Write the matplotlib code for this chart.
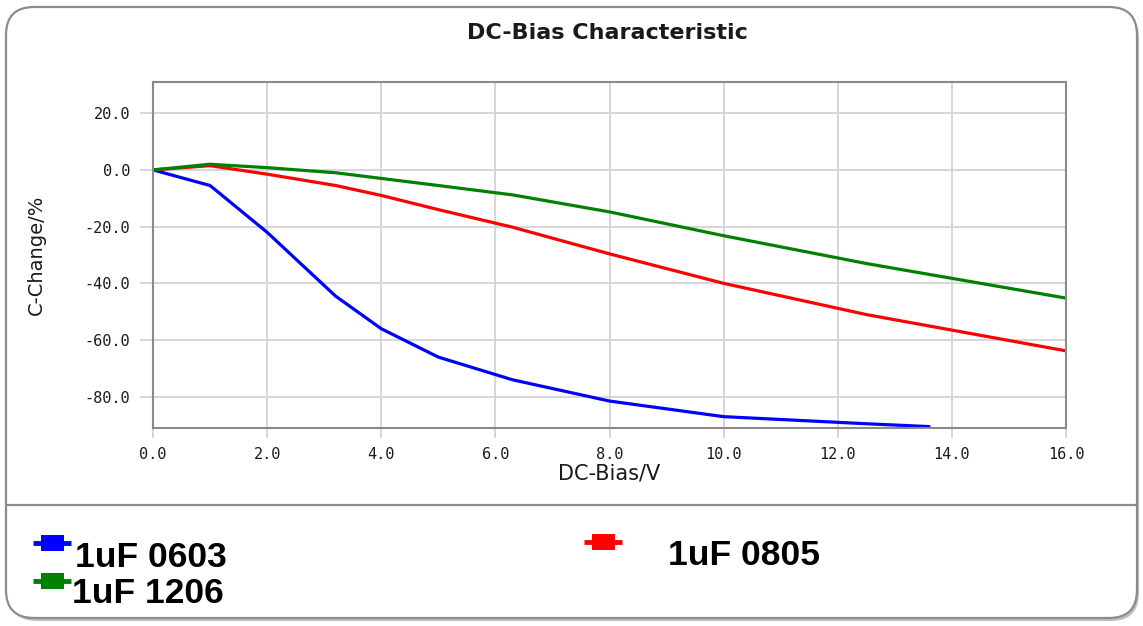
import numpy as np
import matplotlib
matplotlib.use("Agg")
import matplotlib.pyplot as plt
from matplotlib.patches import FancyBboxPatch, Rectangle

# data
bias_0603 = [0, 1, 2, 3.2, 4, 5, 6.3, 8, 10, 12.5, 13.6]
change_0603 = [0, -5.5, -22, -44.5, -56, -66, -74, -81.5, -87, -89.5, -90.5]
bias_0805 = [0, 1, 2, 3.2, 4, 5, 6.3, 8, 10, 12.5, 16]
change_0805 = [0, 1.5, -1.5, -5.5, -9, -14, -20.2, -29.6, -40, -51, -63.8]
bias_1206 = [0, 1, 2, 3.2, 4, 5, 6.3, 8, 10, 12.5, 16]
change_1206 = [0, 2, 0.8, -1, -3, -5.5, -8.8, -14.8, -23.2, -33, -45.2]

labels = ["1uF 0603", "1uF 0805", "1uF 1206"]
colors = ["#0000ff", "#ff0000", "#008000"]
x_ticks = np.arange(0, 17, 2)
y_ticks = [20, 0, -20, -40, -60, -80]

W, H = 1143, 626
fig = plt.figure(figsize=(W / 100, H / 100), dpi=100)

# background layer in pixel units (frame, separator, title, legend)
bg = fig.add_axes([0, 0, 1, 1], zorder=0)
bg.set_xlim(0, W)
bg.set_ylim(H, 0)
bg.axis("off")
bg.add_patch(FancyBboxPatch((9, 10), W - 13, H - 15,
                            boxstyle="round,pad=0,rounding_size=28",
                            facecolor="#4a4a4a", edgecolor="none", alpha=0.35))
bg.add_patch(FancyBboxPatch((6, 7), W - 12, H - 15,
                            boxstyle="round,pad=0,rounding_size=28",
                            facecolor="white", edgecolor="#8c8c8c", linewidth=1.6))
bg.plot([7, W - 7], [505, 505], color="#8c8c8c", linewidth=1.6)
bg.text(607, 33, "DC-Bias Characteristic", ha="center", va="center",
        fontsize=16, fontweight="bold", family="DejaVu Sans", color="#1a1a1a")

# main plot
ax = fig.add_axes([153 / W, 1 - 428 / H, (1066 - 153) / W, (428 - 82) / H], zorder=1)
series = [(bias_0603, change_0603), (bias_0805, change_0805), (bias_1206, change_1206)]
for (xs, ys), c, lab in zip(series, colors, labels):
    ax.plot(xs, ys, color=c, linewidth=2.3, label=lab, solid_capstyle="round")

ax.set_xlim(0, 16)
ax.set_ylim(-91, 31)
ax.set_xticks(x_ticks)
ax.set_yticks(y_ticks)
ax.set_xticklabels([f"{v:.1f}" for v in x_ticks], family="DejaVu Sans Mono", fontsize=11)
ax.set_yticklabels([f"{v:.1f}" for v in y_ticks], family="DejaVu Sans Mono", fontsize=11)
ax.grid(True, color="#d3d3d3", linewidth=1.3)
ax.set_axisbelow(True)
ax.tick_params(axis="y", direction="out", length=9.4, width=1.3, color="#d3d3d3",
               pad=7, labelcolor="#1a1a1a")
ax.tick_params(axis="x", direction="out", length=7, width=1.3, color="#d3d3d3",
               pad=6.5, labelcolor="#1a1a1a")
for s in ax.spines.values():
    s.set_color("#8a8a8a")
    s.set_linewidth(1.5)
ax.set_xlabel("DC-Bias/V", fontsize=15, labelpad=1, color="#1a1a1a")
ax.set_ylabel("C-Change/%", fontsize=14, color="#1a1a1a")
ax.yaxis.set_label_coords(-0.117, 0.5)

# legend drawn by hand like the original: (marker centre x, y, text left x, baseline y)
legend_pos = [(52, 543, 75, 567), (603, 542, 668, 565), (52, 581, 72, 603)]
for (mx, my, tx, ty), c, lab in zip(legend_pos, colors, labels):
    bg.plot([mx - 19, mx + 19], [my, my], color=c, linewidth=3.5, solid_capstyle="butt")
    bg.add_patch(Rectangle((mx - 11.5, my - 8), 23, 16, facecolor=c, edgecolor="none"))
    bg.text(tx, ty, lab, ha="left", va="baseline", fontsize=25.5,
            fontweight="bold", family="Liberation Sans", color="black")

fig.savefig("out.png", dpi=100)
